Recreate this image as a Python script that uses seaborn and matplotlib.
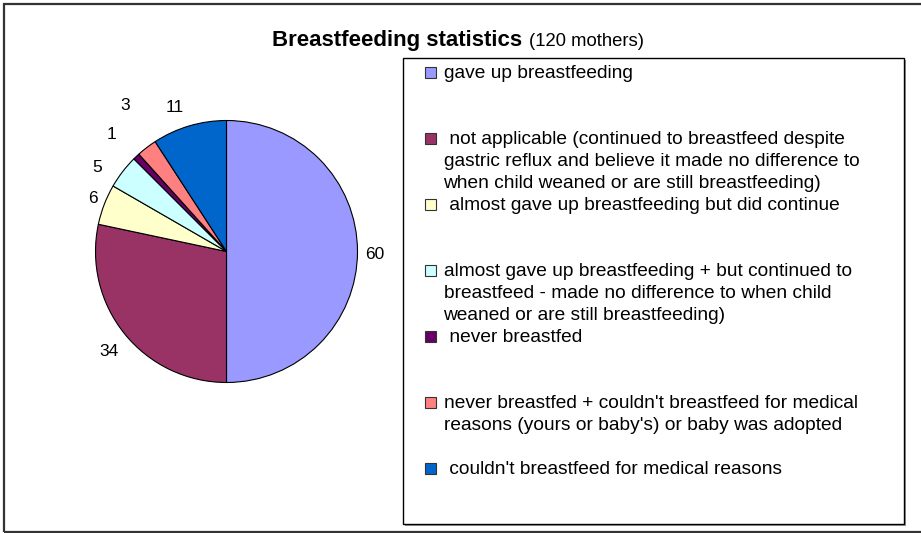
import matplotlib
matplotlib.use("Agg")
import matplotlib.pyplot as plt
from matplotlib.patches import Rectangle
import numpy as np
import seaborn as sns

# --- data ---
categories = [
    "gave up breastfeeding",
    " not applicable (continued to breastfeed despite\ngastric reflux and believe it made no difference to\nwhen child weaned or are still breastfeeding)",
    " almost gave up breastfeeding but did continue",
    "almost gave up breastfeeding + but continued to\nbreastfeed - made no difference to when child\nweaned or are still breastfeeding)",
    " never breastfed",
    "never breastfed + couldn't breastfeed for medical\nreasons (yours or baby's) or baby was adopted",
    " couldn't breastfeed for medical reasons",
]
counts = [60, 34, 6, 5, 1, 3, 11]
colors = ["#9999FF", "#993366", "#FFFFCC", "#CCFFFF", "#660066", "#FF8080", "#0066CC"]
title_bold = "Breastfeeding statistics"
title_note = "(120 mothers)"

sns.set_theme(style="white")
plt.rcParams["font.family"] = ["Liberation Sans", "DejaVu Sans"]
plt.rcParams["text.color"] = "black"

W, H = 921, 533
fig = plt.figure(figsize=(W / 100, H / 100), dpi=100)
fig.patch.set_facecolor("white")


def fx(px):
    return px / W


def fy(py):
    return 1 - py / H


# outer chart frame (right edge runs off the picture)
fig.patches.append(Rectangle((fx(3.5), fy(531.5)), fx(940) - fx(3.5), fy(3.5) - fy(531.5),
                             transform=fig.transFigure, fill=False,
                             edgecolor="#333333", linewidth=1.6))

# title
fig.text(fx(271.5), fy(45.7), title_bold, fontsize=16, fontweight="bold", va="baseline")
fig.text(fx(529), fy(45.7), title_note, fontsize=13.3, va="baseline")

# pie
cx, cy, r = 226.5, 251.5, 131
ax = fig.add_axes([fx(cx - r), fy(cy + r), 2 * r / W, 2 * r / H])
palette = sns.color_palette(colors)
wedges, _ = ax.pie(counts, colors=palette, startangle=90, counterclock=False,
                   wedgeprops=dict(edgecolor="black", linewidth=0.8))
ax.set_xlim(-1, 1)
ax.set_ylim(-1, 1)
ax.axis("off")

# value labels (radius factor, angle nudge in degrees)
label_pos = [(1.13, -1.0), (1.18, 1.3), (1.10, -0.7), (1.18, 4.5),
             (1.25, 1.0), (1.36, -2.8), (1.17, 3.1)]
for w, n, (rf, da) in zip(wedges, counts, label_pos):
    ang = np.deg2rad((w.theta1 + w.theta2) / 2 + da)
    ax.text(rf * np.cos(ang), rf * np.sin(ang), str(n), ha="center", va="center",
            fontsize=12.5, color="black", clip_on=False)

# legend box with shadow
bx0, by0, bx1, by1 = 402.7, 58.3, 904.3, 524.3
fig.patches.append(Rectangle((fx(bx0 + 2), fy(by1 + 2)), fx(bx1) - fx(bx0), fy(by0) - fy(by1),
                             transform=fig.transFigure, facecolor="#9a9a9a", edgecolor="none"))
fig.patches.append(Rectangle((fx(bx0), fy(by1)), fx(bx1) - fx(bx0), fy(by0) - fy(by1),
                             transform=fig.transFigure, facecolor="white",
                             edgecolor="black", linewidth=1.0))

for k, (lab, col) in enumerate(zip(categories, palette)):
    base = 78.3 + 65.9 * k
    fig.patches.append(Rectangle((fx(425), fy(base)), 11 / W, 11 / H,
                                 transform=fig.transFigure, facecolor=col,
                                 edgecolor="#333333", linewidth=0.8))
    for j, line in enumerate(lab.split("\n")):
        fig.text(fx(443.5), fy(base + 22 * j), line, fontsize=13.75, va="baseline",
                 ha="left", color="black")

fig.savefig("out.png", dpi=100)
